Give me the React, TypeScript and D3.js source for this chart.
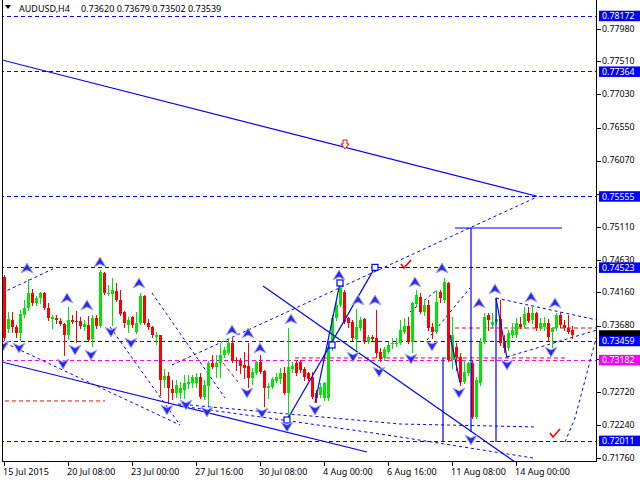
import React from "react";
import * as d3 from "d3";

// ---- candle data (AUDUSD H4) ----
const opens = [0.7438,0.7363,0.7376,0.7366,0.7357,0.7383,0.7393,0.7415,0.7401,0.7408,0.7415,0.7393,0.7377,0.7379,0.7375,0.7370,0.7354,0.7376,0.7375,0.7375,0.7366,0.7369,0.7348,0.7379,0.7367,0.7444,0.7414,0.7414,0.7418,0.7405,0.7388,0.7369,0.7380,0.7359,0.7372,0.7411,0.7372,0.7366,0.7351,0.7354,0.7289,0.7295,0.7276,0.7270,0.7270,0.7275,0.7283,0.7285,0.7285,0.7293,0.7264,0.7280,0.7314,0.7308,0.7314,0.7325,0.7328,0.7343,0.7318,0.7317,0.7311,0.7309,0.7292,0.7299,0.7315,0.7302,0.7277,0.7279,0.7288,0.7290,0.7299,0.7270,0.7305,0.7314,0.7315,0.7305,0.7299,0.7293,0.7270,0.7267,0.7263,0.7263,0.7337,0.7379,0.7398,0.7417,0.7379,0.7373,0.7348,0.7364,0.7377,0.7344,0.7351,0.7350,0.7330,0.7321,0.7330,0.7341,0.7341,0.7343,0.7359,0.7367,0.7344,0.7399,0.7409,0.7388,0.7398,0.7366,0.7359,0.7417,0.7405,0.7430,0.7318,0.7337,0.7322,0.7286,0.7299,0.7314,0.7235,0.7285,0.7344,0.7383,0.7369,0.7373,0.7377,0.7344,0.7335,0.7354,0.7354,0.7370,0.7369,0.7386,0.7376,0.7386,0.7364,0.7366,0.7372,0.7359,0.7364,0.7383,0.7369,0.7364,0.7362];
const highs = [0.7441,0.7388,0.7388,0.7369,0.7391,0.7405,0.7435,0.7421,0.7411,0.7417,0.7417,0.7401,0.7383,0.7383,0.7379,0.7372,0.7395,0.7383,0.7389,0.7380,0.7376,0.7382,0.7383,0.7383,0.7448,0.7446,0.7427,0.7437,0.7430,0.7420,0.7389,0.7380,0.7382,0.7388,0.7415,0.7412,0.7377,0.7367,0.7359,0.7354,0.7305,0.7301,0.7289,0.7289,0.7286,0.7296,0.7296,0.7296,0.7299,0.7299,0.7289,0.7317,0.7325,0.7325,0.7343,0.7337,0.7350,0.7350,0.7322,0.7321,0.7330,0.7343,0.7306,0.7317,0.7325,0.7304,0.7285,0.7293,0.7299,0.7306,0.7308,0.7364,0.7315,0.7318,0.7318,0.7308,0.7301,0.7301,0.7275,0.7285,0.7286,0.7343,0.7383,0.7402,0.7430,0.7420,0.7380,0.7376,0.7392,0.7380,0.7379,0.7354,0.7354,0.7391,0.7335,0.7337,0.7344,0.7350,0.7350,0.7376,0.7379,0.7380,0.7402,0.7420,0.7415,0.7405,0.7405,0.7372,0.7420,0.7420,0.7437,0.7431,0.7380,0.7343,0.7328,0.7318,0.7315,0.7318,0.7293,0.7350,0.7386,0.7386,0.7386,0.7405,0.7405,0.7354,0.7361,0.7372,0.7379,0.7380,0.7395,0.7395,0.7395,0.7388,0.7379,0.7380,0.7377,0.7366,0.7386,0.7388,0.7376,0.7383,0.73679];
const lows = [0.7347,0.7359,0.7359,0.7351,0.7347,0.7380,0.7391,0.7398,0.7398,0.7401,0.7392,0.7376,0.7364,0.7372,0.7369,0.7325,0.7348,0.7372,0.7344,0.7364,0.7361,0.7346,0.7338,0.7364,0.7366,0.7414,0.7412,0.7369,0.7404,0.7383,0.7366,0.7359,0.7366,0.7357,0.7370,0.7370,0.7363,0.7351,0.7341,0.7267,0.7279,0.7256,0.7261,0.7264,0.7263,0.7263,0.7277,0.7279,0.7279,0.7263,0.7261,0.7253,0.7306,0.7293,0.7293,0.7322,0.7327,0.7315,0.7304,0.7299,0.7292,0.7279,0.7283,0.7298,0.7299,0.7251,0.7263,0.7277,0.7286,0.7285,0.7269,0.7231,0.7301,0.7296,0.7301,0.7289,0.7289,0.7263,0.7257,0.7264,0.7260,0.7260,0.7333,0.7376,0.7396,0.7372,0.7366,0.7347,0.7333,0.7361,0.7343,0.7343,0.7347,0.7322,0.7317,0.7318,0.7328,0.7335,0.7338,0.7341,0.7357,0.7343,0.7330,0.7398,0.7386,0.7383,0.7361,0.7350,0.7357,0.7402,0.7402,0.7317,0.7306,0.7304,0.7282,0.7285,0.7296,0.7234,0.7234,0.7282,0.7343,0.7361,0.7366,0.7372,0.7340,0.7330,0.7333,0.7351,0.7351,0.7364,0.7364,0.7373,0.7372,0.7361,0.7361,0.7361,0.7347,0.7337,0.7361,0.7366,0.7361,0.7357,0.73502];
const closes = [0.7350,0.7377,0.7366,0.7357,0.7385,0.7393,0.7415,0.7401,0.7408,0.7415,0.7393,0.7379,0.7380,0.7376,0.7370,0.7354,0.7376,0.7373,0.7373,0.7367,0.7370,0.7347,0.7379,0.7367,0.7446,0.7415,0.7415,0.7420,0.7405,0.7385,0.7372,0.7376,0.7369,0.7372,0.7411,0.7372,0.7366,0.7354,0.7354,0.7289,0.7295,0.7277,0.7270,0.7282,0.7277,0.7285,0.7286,0.7293,0.7293,0.7264,0.7282,0.7314,0.7308,0.7314,0.7325,0.7333,0.7343,0.7317,0.7317,0.7309,0.7306,0.7292,0.7301,0.7315,0.7301,0.7277,0.7280,0.7290,0.7293,0.7299,0.7270,0.7308,0.7309,0.7299,0.7304,0.7293,0.7290,0.7264,0.7263,0.7279,0.7285,0.7337,0.7379,0.7398,0.7422,0.7373,0.7372,0.7350,0.7366,0.7376,0.7344,0.7351,0.7348,0.7328,0.7319,0.7334,0.7340,0.7343,0.7343,0.7361,0.7367,0.7344,0.7401,0.7412,0.7388,0.7398,0.7364,0.7359,0.7402,0.7408,0.7431,0.7318,0.7354,0.7322,0.7286,0.7301,0.7314,0.7235,0.7289,0.7344,0.7380,0.7376,0.7373,0.7377,0.7343,0.7335,0.7357,0.7361,0.7372,0.7366,0.7385,0.7375,0.7386,0.7364,0.7372,0.7372,0.7351,0.7364,0.7383,0.7369,0.7364,0.7359,0.73539];

// ---- axis labels ----
const timeLabels = ["15 Jul 2015","20 Jul 08:00","23 Jul 00:00","27 Jul 16:00","30 Jul 08:00","4 Aug 00:00","6 Aug 16:00","11 Aug 08:00","14 Aug 00:00"];
const timeLabelBars = [0,16,32,48,64,80,96,112,128];
const priceTicks = [0.7798,0.7751,0.7703,0.7655,0.7607,0.7559,0.7511,0.7463,0.7416,0.7368,0.7320,0.7272,0.7224,0.7176];
// tick labels fully hidden behind level boxes in the original
const hiddenTickLabels = [0.7559,0.7320];

// ---- horizontal levels ----
const blueLevels = [0.78172,0.77364,0.75555,0.74523,0.73459,0.72011];
const magentaLevel = 0.73182;
const currentPrice = 0.73539;
const titleSymbol = "AUDUSD,H4";
const titleValues = "0.73620 0.73679 0.73502 0.73539";

// ---- annotation lines [bar, price] ----
const solidLines: [number, number][][] = [
  [[-0.5,0.7753],[133.25,0.75555]],
  [[-0.5,0.73151],[90.75,0.71846]],
  [[64.75,0.74253],[127.75,0.71701]],
  [[70.75,0.7231],[92.75,0.74523]],
  [[77.75,0.72557],[84,0.74297]],
  [[109.75,0.73209],[109.75,0.71991]],
  [[116.75,0.75094],[116.75,0.72136]],
  [[112.75,0.75094],[139.5,0.75094]],
  [[123,0.74079],[123,0.71991]],
  [[123,0.74079],[125.75,0.73209]],
  [[111.5,0.73543],[114,0.72847]],
];
const dashedLines: [number, number][][] = [
  [[42,0.73108],[133.25,0.75544]],
  [[-0.5,0.74152],[12.25,0.74501]],
  [[0.25,0.73427],[44,0.72238]],
  [[26.5,0.73659],[44,0.72238]],
  [[37,0.74152],[55.25,0.72629]],
  [[43.5,0.72542],[99,0.72252],[133.25,0.72209]],
  [[44,0.72513],[71.5,0.72296],[99,0.72064],[132.25,0.71759]],
  [[123,0.74079],[148.25,0.7376]],
  [[125.75,0.73224],[148.25,0.73615]],
  [[140.25,0.71991],[142.75,0.72339],[148.25,0.73543]],
  [[101.5,0.73876],[108.25,0.74195]],
  [[105.75,0.7347],[116.5,0.74224]],
];
const redDashed: [number, number][][] = [
  [[0.25,0.72586],[25.25,0.72586]],
  [[72.75,0.7321],[140.75,0.7321]],
  [[112.75,0.73644],[148.25,0.73644]],
  [[54.75,0.73137],[58.5,0.72861]],
];
const squareMarks: [number, number][] = [[70.75,0.7231],[92.75,0.74523],[84,0.74297],[82,0.73398]];
const upArrows: [number, number][] = [[5.75,0.74514],[24,0.74601],[15.75,0.74079],[20.75,0.73978],[33.75,0.74297],[57,0.73615],[61,0.73572],[64,0.73354],[71.75,0.73775],[83.75,0.74413],[88.5,0.7405],[92.75,0.7405],[102.75,0.74311],[109.5,0.74514],[118.75,0.74007],[122.75,0.7421],[131.75,0.74094],[137.75,0.74007]];
const downArrows: [number, number][] = [[-0.25,0.73383],[3.75,0.73354],[14.75,0.73122],[17.75,0.73325],[21.75,0.73253],[26.75,0.73586],[31.75,0.73427],[40.75,0.72455],[45.5,0.72528],[50.75,0.72426],[60.75,0.72702],[64.5,0.72411],[70.75,0.72209],[77.75,0.72455],[87.25,0.73224],[93.75,0.73006],[101.75,0.73195],[107,0.73383],[113.75,0.72702],[116.75,0.7202],[125.75,0.73108],[136.75,0.73296]];
const checkMarks: [number, number][] = [[100.5,0.74572],[137.75,0.72122]];
const hollowArrow: [number, number] = [85.25,0.76298];

const FONT = "'Noto Sans', 'DejaVu Sans', sans-serif";
const BULL = "#00e600";
const BEAR = "#ff0000";

export default function App() {
  const x = d3.scaleLinear().domain([0, 142]).range([4, 572]);
  const y = d3.scaleLinear().domain([0.71701, 0.784]).range([462, 0]);
  const line = d3.line<[number, number]>().x((d) => x(d[0])).y((d) => y(d[1]));
  const fmt = d3.format(".5f");

  const candles = opens.map((o, i) => {
    const c = closes[i];
    const cx = Math.round(x(i));
    const col = c >= o ? BULL : BEAR;
    const top = Math.round(y(Math.max(o, c)));
    const bot = Math.round(y(Math.min(o, c)));
    return (
      <g key={i}>
        <line x1={cx + 0.5} x2={cx + 0.5} y1={Math.round(y(highs[i]))} y2={Math.round(y(lows[i])) + 1} stroke={col} strokeWidth={1} />
        <rect x={cx - 1} y={top} width={3} height={Math.max(1, bot - top)} fill={col} />
      </g>
    );
  });

  const upPath = (px: number, py: number) => `M${px},${py - 5} L${px + 6},${py + 5} L${px},${py + 2} L${px - 6},${py + 5} Z`;
  const downPath = (px: number, py: number) => `M${px},${py + 5} L${px + 6},${py - 5} L${px},${py - 2} L${px - 6},${py - 5} Z`;

  const labelBox = (p: number, bg: string, key: string, showText = true) => {
    const cy = y(p);
    return (
      <g key={key}>
        <rect x={599} y={cy - 5} width={41} height={10.5} fill={bg} />
        {showText && <text x={602} y={cy + 3.3} fill="#fff" fontSize={8.8} fontFamily={FONT}>{fmt(p)}</text>}
      </g>
    );
  };

  const [hx, hy] = [x(hollowArrow[0]), y(hollowArrow[1])];

  return (
    <svg width={640} height={480} style={{ position: "absolute", left: 0, top: 0, background: "#fff" }}>
      <defs>
        <clipPath id="plot">
          <rect x={3} y={0} width={594} height={461} />
        </clipPath>
      </defs>
      <rect width={640} height={480} fill="#fff" />
      <g clipPath="url(#plot)">
        {blueLevels.map((p, i) => (
          <line key={i} x1={0} x2={597} y1={Math.round(y(p)) + 0.5} y2={Math.round(y(p)) + 0.5} stroke="#0000ff" strokeDasharray="4,3" />
        ))}
        <line x1={0} x2={597} y1={Math.round(y(magentaLevel)) + 0.5} y2={Math.round(y(magentaLevel)) + 0.5} stroke="#ff00ff" strokeDasharray="4,3" />
        {redDashed.map((pts, i) => (
          <path key={i} d={line(pts) || ""} stroke="#ff0000" fill="none" strokeDasharray="4,3" />
        ))}
        {dashedLines.map((pts, i) => (
          <path key={i} d={line(pts) || ""} stroke="#0000ff" fill="none" strokeDasharray="3,3" />
        ))}
        {candles}
        {solidLines.map((pts, i) => (
          <path key={i} d={line(pts) || ""} stroke="#0000ff" fill="none" strokeWidth={1.2} />
        ))}
        {squareMarks.map((d, i) => (
          <rect key={i} x={x(d[0]) - 3} y={y(d[1]) - 3} width={6} height={6} fill="#fff" stroke="#0000ff" strokeWidth={1.2} />
        ))}
        {upArrows.map((d, i) => (
          <path key={i} d={upPath(x(d[0]), y(d[1]))} fill="#2a2ae8" stroke="#a8a8ff" strokeWidth={1} />
        ))}
        {downArrows.map((d, i) => (
          <path key={i} d={downPath(x(d[0]), y(d[1]))} fill="#2a2ae8" stroke="#a8a8ff" strokeWidth={1} />
        ))}
        {checkMarks.map((d, i) => (
          <path key={i} d={`M${x(d[0]) - 5},${y(d[1])} L${x(d[0]) - 2},${y(d[1]) + 4} L${x(d[0]) + 5},${y(d[1]) - 4}`} stroke="#ff0000" strokeWidth={1.6} fill="none" />
        ))}
        <path d={`M${hx - 2},${hy - 5} h4 v4 h2 l-4,5 l-4,-5 h2 z`} fill="#fff" stroke="#ff0000" strokeWidth={1} />
      </g>

      {/* frame */}
      <line x1={2.5} x2={2.5} y1={0} y2={462} stroke="#000" />
      <line x1={2} x2={597} y1={461.5} y2={461.5} stroke="#000" />
      <line x1={596.5} x2={596.5} y1={0} y2={462} stroke="#000" />

      {/* title */}
      <path d="M5,5 L11,5 L8,9 Z" fill="#000" />
      <text x={19} y={12} fontSize={9} fontFamily={FONT} fill="#000">{titleSymbol}</text>
      <text x={81} y={12} fontSize={9} fontFamily={FONT} fill="#000">{titleValues}</text>

      {/* price axis */}
      {priceTicks.map((p, i) => (
        <g key={i}>
          <line x1={597} x2={601} y1={Math.round(y(p)) + 0.5} y2={Math.round(y(p)) + 0.5} stroke="#000" />
          {!hiddenTickLabels.includes(p) && (
            <text x={602} y={y(p) + 2.8} fontSize={8.8} fontFamily={FONT} fill="#000">{fmt(p)}</text>
          )}
        </g>
      ))}
      {labelBox(currentPrice, "#000", "cur", false)}
      {blueLevels.map((p, i) => labelBox(p, "#0000ff", "b" + i))}
      {labelBox(magentaLevel, "#ff00ff", "m")}

      {/* time axis */}
      {timeLabelBars.map((b, i) => (
        <g key={i}>
          <line x1={Math.round(x(b)) + 0.5} x2={Math.round(x(b)) + 0.5} y1={462} y2={466} stroke="#000" />
          <text x={x(b) - 1} y={475} fontSize={9} fontFamily={FONT} fill="#000">{timeLabels[i]}</text>
        </g>
      ))}
    </svg>
  );
}
